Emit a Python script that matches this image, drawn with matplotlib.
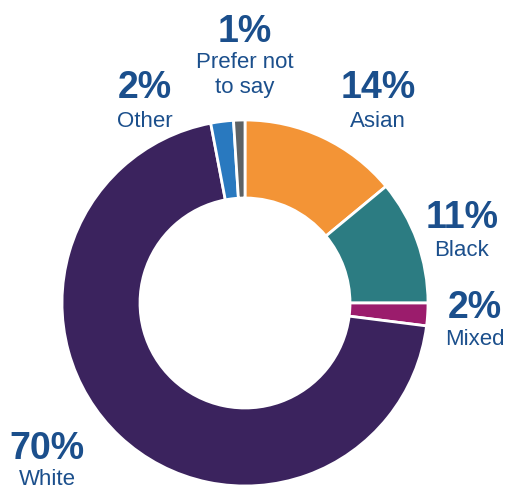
import matplotlib

matplotlib.use("Agg")
import matplotlib.pyplot as plt

categories = ["Asian", "Black", "Mixed", "White", "Other", "Prefer not\nto say"]
shares = [14, 11, 2, 70, 2, 1]
colors = ["#F39436", "#2C7C82", "#9B1C6C", "#3B235E", "#2979BF", "#5D6265"]
# label anchors in pixels: x centre, baseline of percentage, baseline of name
label_pos = [
    (378, 98, 127),
    (462, 228, 256),
    (475, 318, 345),
    (47, 459, 485),
    (145, 98, 127),
    (245, 42, 68),
]

W, H = 508, 491
text_color = "#1B4F8C"

fig = plt.figure(figsize=(W / 100, H / 100), dpi=100)
ax = fig.add_axes([0, 0, 1, 1])

ax.pie(
    shares,
    colors=colors,
    startangle=90,
    counterclock=False,
    center=(245, H - 303),
    radius=183,
    wedgeprops=dict(width=78, edgecolor="white", linewidth=2.0),
    frame=True,
)
ax.set_xlim(0, W)
ax.set_ylim(0, H)
ax.set_aspect("equal")
ax.axis("off")

for name, share, (x, y_pct, y_name) in zip(categories, shares, label_pos):
    ax.text(x, H - y_pct, f"{share}%", ha="center", va="baseline", fontsize=27,
            fontweight="bold", color=text_color, family="Liberation Sans")
    lines = name.split("\n")
    for i, line in enumerate(lines):
        ax.text(x, H - y_name - i * 25, line, ha="center", va="baseline", fontsize=16,
                color=text_color, family="Liberation Sans")

fig.savefig("out.png", dpi=100)
